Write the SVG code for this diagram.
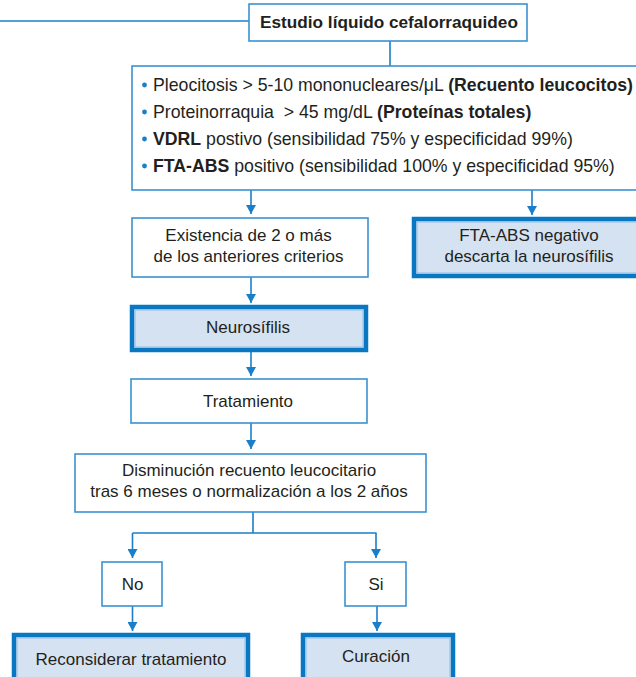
<svg xmlns="http://www.w3.org/2000/svg" width="636" height="677" viewBox="0 0 636 677">
<style>
  .box{fill:#ffffff;stroke:#3a92d2;stroke-width:1.6}
  .hl{fill:#d5e2f1;stroke:#0a77c2;stroke-width:4.5}
  .hlin{fill:none;stroke:#8ebde5;stroke-width:1}
  .t{font-family:"Liberation Sans",Arial,sans-serif;font-size:17px;fill:#231f20;text-anchor:middle}
  .c{font-family:"Liberation Sans",Arial,sans-serif;font-size:17.7px;fill:#231f20}
  .b{font-weight:bold}
  .bul{fill:#1a7fc8}
  .ln{fill:none;stroke:#1a7fc8;stroke-width:1.6}
</style>
<defs>
  <marker id="ah" markerUnits="userSpaceOnUse" markerWidth="10" markerHeight="9" viewBox="0 0 10 9" refX="5" refY="9" orient="0">
    <path d="M0,0 L10,0 L5,9 Z" fill="#1a7fc8"/>
  </marker>
</defs>
<rect width="636" height="677" fill="#ffffff"/>

<g id="connectors">
  <path class="ln" d="M0,21 H249"/>
  <path class="ln" d="M390,41 V66"/>
  <path class="ln" d="M251,190 V214" marker-end="url(#ah)"/>
  <path class="ln" d="M532,190 V215" marker-end="url(#ah)"/>
  <path class="ln" d="M251,277 V303" marker-end="url(#ah)"/>
  <path class="ln" d="M251,352 V376" marker-end="url(#ah)"/>
  <path class="ln" d="M251,423 V449" marker-end="url(#ah)"/>
  <path class="ln" d="M253,512 V533 M132.5,533 H376.5"/>
  <path class="ln" d="M132.5,533 V558" marker-end="url(#ah)"/>
  <path class="ln" d="M376,533 V558" marker-end="url(#ah)"/>
  <path class="ln" d="M132.5,606 V631" marker-end="url(#ah)"/>
  <path class="ln" d="M377,606 V631" marker-end="url(#ah)"/>
</g>

<g id="estudio">
  <rect class="box" x="249" y="4" width="278" height="37"/>
  <text class="t b" x="389" y="28" style="font-size:17.2px">Estudio líquido cefalorraquideo</text>
</g>

<g id="criterios">
  <rect class="box" x="132" y="66" width="510" height="124"/>
  <circle class="bul" cx="144.5" cy="85" r="2.4"/>
  <circle class="bul" cx="144.5" cy="112" r="2.4"/>
  <circle class="bul" cx="144.5" cy="139" r="2.4"/>
  <circle class="bul" cx="144.5" cy="166" r="2.4"/>
  <text class="c" x="153" y="91">Pleocitosis &gt; 5-10 mononucleares/μL <tspan class="b">(Recuento leucocitos)</tspan></text>
  <text class="c" x="153" y="118">Proteinorraquia&#160; &gt; 45 mg/dL <tspan class="b">(Proteínas totales)</tspan></text>
  <text class="c" x="153" y="145"><tspan class="b">VDRL</tspan> postivo (sensibilidad 75% y especificidad 99%)</text>
  <text class="c" x="153" y="172"><tspan class="b">FTA-ABS</tspan> positivo (sensibilidad 100% y especificidad 95%)</text>
</g>

<g id="existencia">
  <rect class="box" x="132" y="218" width="236" height="59"/>
  <text class="t" x="248.5" y="241">Existencia de 2 o más</text>
  <text class="t" x="248.5" y="262">de los anteriores criterios</text>
</g>

<g id="fta-negativo">
  <rect class="hl" x="414" y="219" width="230" height="57"/>
  <rect class="hlin" x="417" y="222" width="224" height="51"/>
  <text class="t" x="529" y="241">FTA-ABS negativo</text>
  <text class="t" x="529" y="262">descarta la neurosífilis</text>
</g>

<g id="neurosifilis">
  <rect class="hl" x="132" y="307" width="234" height="43"/>
  <rect class="hlin" x="135" y="310" width="228" height="37"/>
  <text class="t" x="248" y="333">Neurosífilis</text>
</g>

<g id="tratamiento">
  <rect class="box" x="131" y="379" width="236" height="44"/>
  <text class="t" x="248" y="407">Tratamiento</text>
</g>

<g id="disminucion">
  <rect class="box" x="75" y="454" width="351" height="58"/>
  <text class="t" x="249" y="476">Disminución recuento leucocitario</text>
  <text class="t" x="249" y="497">tras 6 meses o normalización a los 2 años</text>
</g>

<g id="no">
  <rect class="box" x="102" y="562" width="60" height="44"/>
  <text class="t" x="132.5" y="590">No</text>
</g>

<g id="si">
  <rect class="box" x="345" y="562" width="61" height="44"/>
  <text class="t" x="376" y="590">Si</text>
</g>

<g id="reconsiderar">
  <rect class="hl" x="14" y="635" width="234" height="50"/>
  <rect class="hlin" x="17" y="638" width="228" height="44"/>
  <text class="t" x="131" y="665">Reconsiderar tratamiento</text>
</g>

<g id="curacion">
  <rect class="hl" x="303" y="635" width="150" height="50"/>
  <rect class="hlin" x="306" y="638" width="144" height="44"/>
  <text class="t" x="376" y="662">Curación</text>
</g>
</svg>
